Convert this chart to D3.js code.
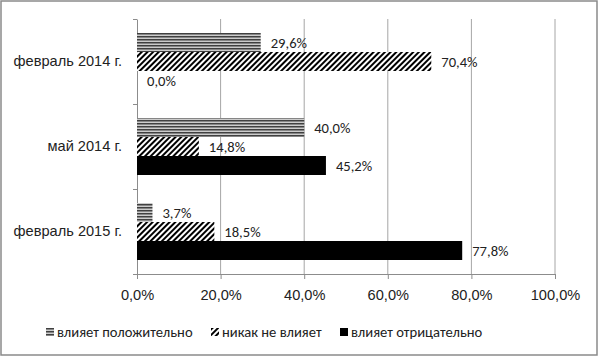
<!DOCTYPE html>
<html><head><meta charset="utf-8">
<script src="https://cdn.jsdelivr.net/npm/d3@7"></script>
<style>
body{margin:0;background:#fff;}
svg{display:block;font-family:Carlito,Lato,"Open Sans",sans-serif;}
</style></head>
<body>
<script>
const categories = ["февраль 2014 г.", "май 2014 г.", "февраль 2015 г."];
const seriesNames = ["влияет положительно", "никак не влияет", "влияет отрицательно"];
const positive = [29.6, 40.0, 3.7];
const neutral = [70.4, 14.8, 18.5];
const negative = [0.0, 45.2, 77.8];
const xTicks = [0, 20, 40, 60, 80, 100];

const W = 600, H = 357, FS = 14.6;
const pLeft = 137, pRight = 555, pTop = 19, pBottom = 274;
const svg = d3.select("body").append("svg").attr("width", W).attr("height", H);

const defs = svg.append("defs");
const pg = defs.append("pattern").attr("id","pGray").attr("patternUnits","userSpaceOnUse")
  .attr("width",4).attr("height",3);
pg.append("rect").attr("width",4).attr("height",3).attr("fill","#cccccc");
pg.append("rect").attr("y",0).attr("width",4).attr("height",1.5).attr("fill","#404040");
const ph = defs.append("pattern").attr("id","pHatch").attr("patternUnits","userSpaceOnUse")
  .attr("width",4).attr("height",4).attr("patternTransform","rotate(45)");
ph.append("rect").attr("width",4).attr("height",4).attr("fill","#fff");
ph.append("rect").attr("x",0).attr("width",2).attr("height",4).attr("fill","#000");
const fills = ["url(#pGray)","url(#pHatch)","#000"];

svg.append("rect").attr("x",1).attr("y",1).attr("width",596).attr("height",354)
  .attr("fill","#fff").attr("stroke","#8a8a8a").attr("stroke-width",1.5);

const x = d3.scaleLinear().domain([0,100]).range([pLeft,pRight]);
const y = d3.scaleBand().domain(categories).range([pTop,pBottom]);
const inner = d3.scaleBand().domain([0,1,2]).range([0, 57]);

// gridlines
svg.append("g").selectAll("line").data(xTicks.slice(1)).join("line")
  .attr("x1",d=>x(d)).attr("x2",d=>x(d)).attr("y1",pTop).attr("y2",pBottom)
  .attr("stroke","#a6a6a6").attr("stroke-width",1);

// x axis
const xa = svg.append("g").attr("transform",`translate(0,${pBottom})`)
  .call(d3.axisBottom(x).tickValues(xTicks).tickSize(5).tickSizeOuter(0)
    .tickFormat(d=>d.toFixed(1).replace(".",",")+"%"));
xa.select(".domain").attr("stroke","#8c8c8c").attr("d",`M${pLeft-4},0.5H${pRight}`);
xa.selectAll(".tick line").attr("stroke","#8c8c8c");
xa.selectAll(".tick text").attr("font-size",FS).attr("fill","#222").attr("dy","1.25em")
  .style("font-family","inherit");

// y axis
const ya = svg.append("g").attr("transform",`translate(${pLeft},0)`)
  .call(d3.axisLeft(y).tickSize(0).tickPadding(15));
ya.select(".domain").attr("stroke","#8c8c8c");
ya.selectAll(".tick text").attr("font-size",FS).attr("fill","#222").style("font-family","inherit");
const bounds = [pTop, ...categories.map(c=>y(c)+y.bandwidth())];
svg.append("g").selectAll("line").data(bounds).join("line")
  .attr("x1",pLeft-4).attr("x2",pLeft).attr("y1",d=>Math.round(d)+0.5).attr("y2",d=>Math.round(d)+0.5)
  .attr("stroke","#8c8c8c");

// bars
const series = [positive, neutral, negative];
const data = [];
categories.forEach((c,i)=>series.forEach((s,j)=>data.push({c, j, v:s[i]})));
const off = (y.bandwidth()-57)/2;
svg.append("g").selectAll("rect").data(data).join("rect")
  .attr("x",x(0)).attr("y",d=>y(d.c)+off+inner(d.j))
  .attr("width",d=>x(d.v)-x(0)).attr("height",inner.bandwidth())
  .attr("fill",d=>fills[d.j]);
svg.append("g").selectAll("text").data(data).join("text")
  .attr("x",d=>x(d.v)+10).attr("y",d=>y(d.c)+off+inner(d.j)+inner.bandwidth()/2)
  .attr("dy","0.35em").attr("font-size",FS).attr("fill","#222")
  .text(d=>d.v.toFixed(1).replace(".",",")+"%");

// legend
const legX = [46, 211, 340];
const lg = svg.append("g").selectAll("g").data(seriesNames).join("g")
  .attr("transform",(d,i)=>`translate(${legX[i]},328)`);
lg.append("rect").attr("width",8).attr("height",8).attr("fill",(d,i)=>fills[i]);
lg.append("text").attr("x",11).attr("y",4).attr("dy","0.35em").attr("font-size",FS)
  .attr("fill","#222").text(d=>d);
</script>
</body></html>
